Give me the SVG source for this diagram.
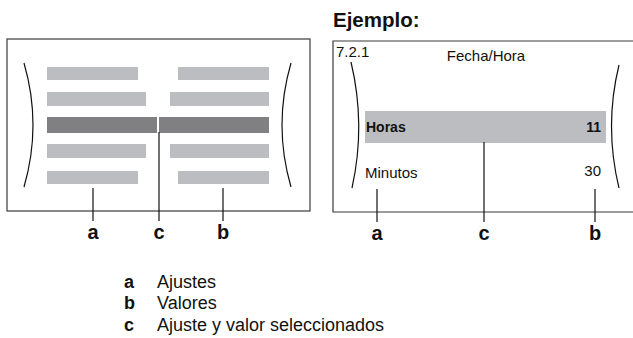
<svg xmlns="http://www.w3.org/2000/svg" width="633" height="338" viewBox="0 0 633 338">
<style>
.box{fill:none;stroke:#3a3a3a;stroke-width:1.2}
.bar{fill:#bcbdc0}
.sel{fill:#808083}
.br{fill:none;stroke:#111;stroke-width:1.2}
.ld{stroke:#111;stroke-width:1.2;fill:none}
.lbl{font-family:"Liberation Sans",Arial,sans-serif;font-weight:bold;font-size:20px;fill:#111;text-anchor:middle}
.t{font-family:"Liberation Sans",Arial,sans-serif;font-size:15px;fill:#111}
.tb{font-family:"Liberation Sans",Arial,sans-serif;font-size:14px;font-weight:bold;fill:#111}
.lg{font-family:"Liberation Sans",Arial,sans-serif;font-size:18px;fill:#111}
.lgb{font-family:"Liberation Sans",Arial,sans-serif;font-size:18px;font-weight:bold;fill:#111}
</style>
<g id="generic-panel">
<rect class="box" x="7" y="39" width="303" height="172"/>
<path class="br" d="M24,63 Q42,125 24,187"/>
<path class="br" d="M291,63 Q273,125 291,187"/>
<rect class="bar" x="47" y="67" width="91" height="13"/>
<rect class="bar" x="178" y="67" width="91" height="13"/>
<rect class="bar" x="47" y="92" width="99" height="14"/>
<rect class="bar" x="170" y="92" width="99" height="14"/>
<rect class="sel" x="47" y="117" width="110" height="16"/>
<rect class="sel" x="159" y="117" width="110" height="16"/>
<rect class="bar" x="47" y="144" width="99" height="14"/>
<rect class="bar" x="170" y="144" width="99" height="14"/>
<rect class="bar" x="47" y="171" width="91" height="13"/>
<rect class="bar" x="178" y="171" width="91" height="13"/>
</g>
<g id="example-panel">
<text x="333" y="27" font-family="Liberation Sans,Arial,sans-serif" font-size="20.5" font-weight="bold" fill="#111">Ejemplo:</text>
<path class="box" d="M633,41 H333 V212 H633"/>
<text class="t" x="336" y="57">7.2.1</text>
<text class="t" x="486" y="61" font-size="16" text-anchor="middle">Fecha/Hora</text>
<path class="br" d="M351,62 Q366,125 352,188"/>
<path class="br" d="M619,65 Q604,126 619,188"/>
<rect class="bar" x="365" y="111" width="241" height="32"/>
<text class="tb" x="366" y="132">Horas</text>
<text class="tb" x="601" y="132" text-anchor="end">11</text>
<text class="t" x="365" y="178">Minutos</text>
<text class="t" x="601" y="176" text-anchor="end">30</text>
</g>
<g id="connectors">
<line class="ld" x1="93" y1="188" x2="93" y2="221"/>
<line class="ld" x1="159" y1="132" x2="159" y2="221"/>
<line class="ld" x1="223" y1="188" x2="223" y2="221"/>
<line class="ld" x1="377" y1="189" x2="377" y2="222"/>
<line class="ld" x1="484" y1="142" x2="484" y2="222"/>
<line class="ld" x1="595" y1="189" x2="595" y2="222"/>
</g>
<g id="labels">
<text class="lbl" x="93" y="239">a</text>
<text class="lbl" x="159" y="239">c</text>
<text class="lbl" x="223" y="239">b</text>
<text class="lbl" x="377" y="240">a</text>
<text class="lbl" x="484" y="240">c</text>
<text class="lbl" x="595" y="240">b</text>
</g>
<g id="legend">
<text class="lgb" x="124" y="288">a</text>
<text class="lg" x="157" y="288">Ajustes</text>
<text class="lgb" x="124" y="309">b</text>
<text class="lg" x="157" y="309">Valores</text>
<text class="lgb" x="124" y="331">c</text>
<text class="lg" x="157" y="331">Ajuste y valor seleccionados</text>
</g>
</svg>
